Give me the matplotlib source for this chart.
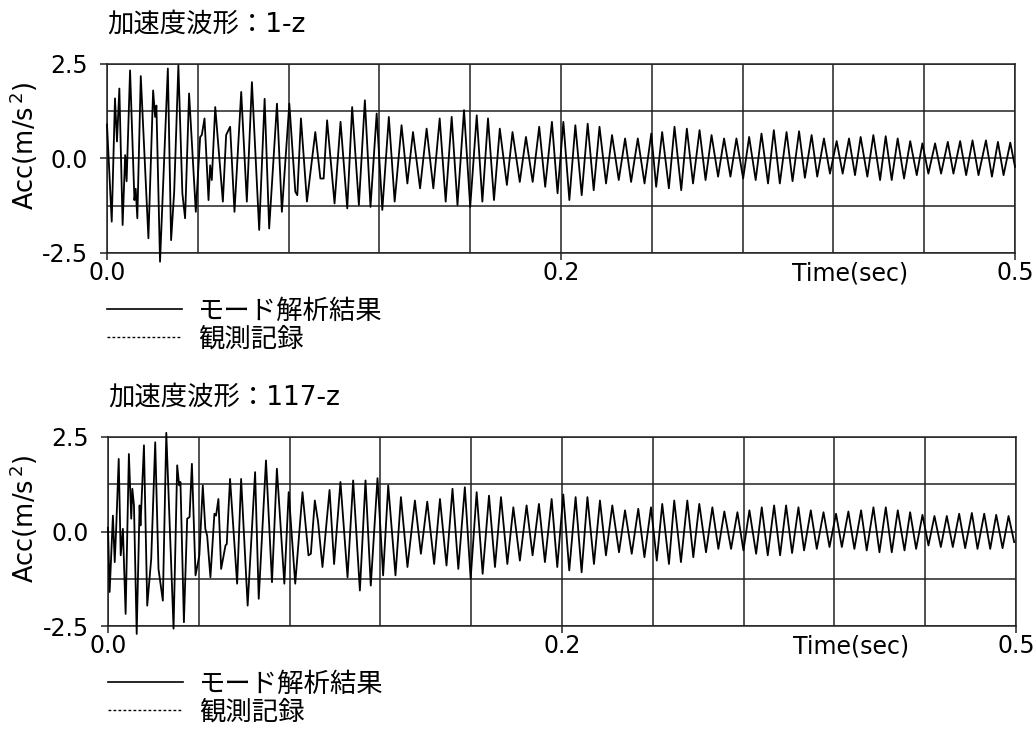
import numpy as np
import matplotlib
matplotlib.use("Agg")
import matplotlib.pyplot as plt
from matplotlib.lines import Line2D

plt.rcParams['font.family'] = ['DejaVu Sans', 'Noto Sans CJK JP']

# waveform extremes (time in sec, acc in m/s2)
t_1z = [0.0000, 0.0026, 0.0044, 0.0055, 0.0068, 0.0086, 0.0100, 0.0108, 0.0127, 0.0151,
        0.0158, 0.0167, 0.0186, 0.0208, 0.0228, 0.0254, 0.0265, 0.0272, 0.0292, 0.0335,
        0.0353, 0.0370, 0.0393, 0.0415, 0.0430, 0.0452, 0.0470, 0.0489, 0.0513, 0.0522,
        0.0537, 0.0559, 0.0568, 0.0577, 0.0596, 0.0638, 0.0656, 0.0678, 0.0702, 0.0739,
        0.0770, 0.0798, 0.0838, 0.0868, 0.0893, 0.0936, 0.0963, 0.1004, 0.1037, 0.1048,
        0.1068, 0.1101, 0.1147, 0.1175, 0.1193, 0.1212, 0.1253, 0.1286, 0.1323, 0.1350,
        0.1387, 0.1420, 0.1451, 0.1485, 0.1516, 0.1552, 0.1584, 0.1622, 0.1654, 0.1685,
        0.1724, 0.1760, 0.1797, 0.1832, 0.1865, 0.1898, 0.1930, 0.1966, 0.2000, 0.2036,
        0.2067, 0.2098, 0.2131, 0.2163, 0.2202, 0.2233, 0.2273, 0.2307, 0.2344, 0.2380,
        0.2413, 0.2450, 0.2481, 0.2513, 0.2546, 0.2579, 0.2614, 0.2647, 0.2680, 0.2712,
        0.2748, 0.2781, 0.2818, 0.2853, 0.2886, 0.2923, 0.2960, 0.2997, 0.3024, 0.3057,
        0.3094, 0.3125, 0.3162, 0.3193, 0.3227, 0.3263, 0.3296, 0.3329, 0.3365, 0.3398,
        0.3433, 0.3466, 0.3503, 0.3536, 0.3572, 0.3604, 0.3640, 0.3672, 0.3705, 0.3742,
        0.3775, 0.3811, 0.3843, 0.3880, 0.3911, 0.3948, 0.3981, 0.4018, 0.4051, 0.4086,
        0.4119, 0.4150, 0.4187, 0.4220, 0.4257, 0.4288, 0.4321, 0.4354, 0.4389, 0.4423,
        0.4459, 0.4490, 0.4523, 0.4560, 0.4593, 0.4630, 0.4661, 0.4698, 0.4731, 0.4766,
        0.4799, 0.4840, 0.4873, 0.4906, 0.4937, 0.4974, 0.5000]
acc_1z = [0.90, -1.67, 1.59, 0.45, 1.85, -1.76, 0.09, -0.60, 2.33, -1.10,
          -0.80, -1.58, 2.18, -0.09, -2.11, 1.80, 1.10, 1.40, -2.73, 2.38,
          -2.16, -0.88, 2.46, -0.92, -1.58, 1.72, 0.18, -1.41, 0.57, 0.62,
          1.06, -1.10, -0.18, -0.57, 1.36, -1.14, 0.62, 0.84, -1.41, 1.76,
          -1.14, 2.02, -1.89, 1.58, -1.85, 1.45, -1.41, 1.45, -0.88, -0.97,
          1.06, -1.14, 0.70, -0.53, -0.53, 1.01, -1.19, 0.97, -1.32, 1.36,
          -1.23, 1.54, -1.28, 1.19, -1.36, 1.10, -1.14, 0.88, -0.66, 0.70,
          -0.79, 0.79, -0.79, 1.06, -1.14, 1.10, -1.23, 1.28, -1.28, 1.14,
          -1.14, 1.06, -1.10, 0.79, -0.70, 0.70, -0.62, 0.57, -0.62, 0.84,
          -0.75, 0.97, -0.92, 0.97, -1.10, 0.88, -0.97, 0.92, -0.84, 0.84,
          -0.66, 0.62, -0.57, 0.53, -0.62, 0.53, -0.66, 0.66, -0.75, 0.70,
          -0.79, 0.84, -0.84, 0.79, -0.66, 0.75, -0.57, 0.62, -0.48, 0.53,
          -0.48, 0.53, -0.53, 0.57, -0.57, 0.66, -0.66, 0.75, -0.66, 0.70,
          -0.60, 0.72, -0.51, 0.62, -0.48, 0.53, -0.40, 0.46, -0.40, 0.53,
          -0.44, 0.57, -0.48, 0.62, -0.57, 0.59, -0.57, 0.53, -0.53, 0.46,
          -0.44, 0.40, -0.40, 0.40, -0.40, 0.44, -0.40, 0.46, -0.44, 0.48,
          -0.44, 0.48, -0.48, 0.44, -0.44, 0.42, -0.22]

t_117z = [0.0000, 0.0009, 0.0027, 0.0037, 0.0045, 0.0059, 0.0070, 0.0082, 0.0097, 0.0115,
          0.0128, 0.0134, 0.0143, 0.0158, 0.0174, 0.0179, 0.0198, 0.0216, 0.0238, 0.0260,
          0.0278, 0.0302, 0.0321, 0.0361, 0.0381, 0.0392, 0.0399, 0.0418, 0.0436, 0.0449,
          0.0462, 0.0482, 0.0503, 0.0522, 0.0536, 0.0546, 0.0564, 0.0586, 0.0595, 0.0608,
          0.0623, 0.0647, 0.0654, 0.0672, 0.0711, 0.0733, 0.0769, 0.0810, 0.0830, 0.0870,
          0.0903, 0.0930, 0.0971, 0.0995, 0.1031, 0.1071, 0.1104, 0.1117, 0.1139, 0.1157,
          0.1181, 0.1220, 0.1245, 0.1280, 0.1319, 0.1350, 0.1387, 0.1418, 0.1447, 0.1484,
          0.1515, 0.1543, 0.1583, 0.1613, 0.1649, 0.1690, 0.1723, 0.1758, 0.1796, 0.1828,
          0.1864, 0.1897, 0.1929, 0.1965, 0.1997, 0.2030, 0.2063, 0.2098, 0.2131, 0.2164,
          0.2199, 0.2232, 0.2268, 0.2305, 0.2338, 0.2373, 0.2406, 0.2443, 0.2474, 0.2507,
          0.2540, 0.2575, 0.2608, 0.2640, 0.2676, 0.2709, 0.2742, 0.2777, 0.2814, 0.2847,
          0.2884, 0.2920, 0.2954, 0.2990, 0.3022, 0.3052, 0.3089, 0.3118, 0.3155, 0.3190,
          0.3223, 0.3256, 0.3293, 0.3328, 0.3361, 0.3394, 0.3431, 0.3466, 0.3499, 0.3532,
          0.3569, 0.3600, 0.3633, 0.3668, 0.3701, 0.3734, 0.3767, 0.3802, 0.3833, 0.3870,
          0.3903, 0.3940, 0.3973, 0.4009, 0.4041, 0.4077, 0.4110, 0.4147, 0.4178, 0.4215,
          0.4248, 0.4283, 0.4316, 0.4349, 0.4386, 0.4417, 0.4450, 0.4485, 0.4518, 0.4551,
          0.4586, 0.4619, 0.4652, 0.4687, 0.4720, 0.4757, 0.4788, 0.4825, 0.4858, 0.4891,
          0.4926, 0.4959, 0.4990]
acc_117z = [0.10, -1.60, 0.42, -0.81, 0.07, 1.92, -0.63, 0.07, -2.18, 2.05,
            0.34, 1.13, 0.69, -2.71, 0.69, 0.16, 2.28, -1.96, -0.72, 2.36,
            -0.99, -1.83, 2.61, -2.57, 1.75, 1.22, 1.31, -2.40, 0.34, 0.38,
            1.79, -1.16, -0.63, 1.22, 0.07, -0.11, -1.21, 0.47, 0.42, 0.86,
            -0.99, -0.37, -0.33, 1.39, -1.38, 1.39, -1.96, 1.57, -1.78, 1.88,
            -1.34, 1.66, -1.38, 1.04, -1.38, 1.04, -0.63, -0.59, 0.82, 0.25,
            -0.94, 1.10, -0.86, 1.31, -1.21, 1.35, -1.56, 1.35, -1.43, 1.41,
            -1.16, 1.22, -1.16, 0.91, -0.94, 0.82, -0.59, 0.79, -0.86, 0.86,
            -0.90, 1.13, -0.99, 1.17, -1.25, 1.04, -1.12, 0.95, -0.94, 0.91,
            -0.86, 0.64, -0.77, 0.69, -0.63, 0.73, -0.81, 0.86, -0.94, 0.98,
            -1.03, 0.91, -1.08, 0.91, -0.86, 0.82, -0.63, 0.69, -0.55, 0.56,
            -0.59, 0.60, -0.68, 0.64, -0.77, 0.73, -0.86, 0.82, -0.81, 0.82,
            -0.68, 0.73, -0.55, 0.64, -0.46, 0.53, -0.46, 0.51, -0.50, 0.56,
            -0.59, 0.64, -0.63, 0.69, -0.63, 0.69, -0.57, 0.64, -0.50, 0.56,
            -0.46, 0.51, -0.41, 0.47, -0.41, 0.53, -0.46, 0.56, -0.50, 0.64,
            -0.55, 0.64, -0.55, 0.56, -0.50, 0.51, -0.46, 0.44, -0.37, 0.41,
            -0.41, 0.41, -0.41, 0.47, -0.44, 0.49, -0.46, 0.47, -0.46, 0.44,
            -0.44, 0.41, -0.28]

titles = ["加速度波形：1-z", "加速度波形：117-z"]
legend_labels = ["モード解析結果", "観測記録"]
xticks = [0.0, 0.25, 0.5]      # the original prints 0.25 as "0.2"
yticks = [-2.5, 0.0, 2.5]

W, H = 1036, 729
fig = plt.figure(figsize=(W / 100, H / 100), dpi=100)
gc = "#222222"

panels = [(t_1z, acc_1z, 64, 107), (t_117z, acc_117z, 437, 108)]
for k, (tt, aa, top_px, left_px) in enumerate(panels):
    ax = fig.add_axes([left_px / W, 1 - (top_px + 189) / H, 908 / W, 189 / H])
    ax.plot(tt, aa, color="black", lw=1.3, clip_on=False, zorder=3)
    ax.set_xlim(0, 0.5)
    ax.set_ylim(-2.5, 2.5)

    ax.set_xticks(xticks)
    ax.set_xticklabels(["%.1f" % x for x in xticks])
    ax.set_xticks(np.arange(0.05, 0.5, 0.05), minor=True)
    ax.set_yticks(yticks)
    ax.set_yticklabels(["%.1f" % y for y in yticks])
    ax.set_yticks([-1.25, 1.25], minor=True)
    ax.tick_params(which="major", direction="out", length=5, width=1.1,
                   color=gc, labelsize=17)
    ax.tick_params(axis="x", pad=1)
    ax.tick_params(axis="y", pad=9)
    ax.tick_params(which="minor", length=0)
    ax.grid(True, which="both", color=gc, lw=1.1)
    for s in ax.spines.values():
        s.set_color(gc)
        s.set_linewidth(1.1)

    ax.annotate("Time(sec)", xy=(0.409, 0), xycoords=("data", "axes fraction"),
                xytext=(0, -6), textcoords="offset points",
                ha="center", va="top", fontsize=17)
    ax.text(0, 1 + 39 / 189, titles[k], transform=ax.transAxes, ha="left",
            va="center", fontsize=19)
    fig.text(24 / W, 1 - (top_px + 82) / H, r"Acc(m/s$^{\,2}$)", rotation=90,
             ha="center", va="center", fontsize=18.5)

    handles = [Line2D([], [], color="black", lw=1.2),
               Line2D([], [], color="black", lw=1.0, linestyle=(0, (2, 1.6)))]
    ax.legend(handles, legend_labels, loc="upper left", bbox_to_anchor=(0, -0.241),
              frameon=False, fontsize=19, borderpad=0, borderaxespad=0,
              handlelength=2.85, handletextpad=0.6, labelspacing=0.07)

fig.savefig("out.png", dpi=100)
